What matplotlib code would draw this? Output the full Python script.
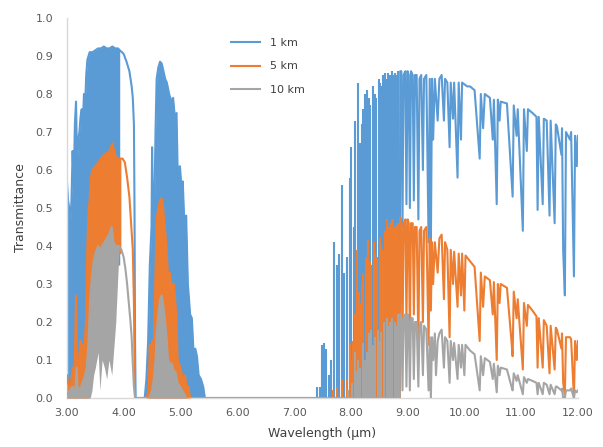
import matplotlib
matplotlib.use('Agg')
from matplotlib import pyplot as plt

BLUE = '#5B9BD5'
ORANGE = '#ED7D31'
GRAY = '#A5A5A5'

# ---- 1 km ----
blue_w1 = [3.00, 3.02, 3.04, 3.06, 3.08, 3.10, 3.12, 3.14, 3.16, 3.18, 3.20, 3.22, 3.24, 3.26, 3.28, 3.30,
           3.32, 3.34, 3.36, 3.38, 3.40, 3.45, 3.50, 3.55, 3.60, 3.65, 3.70, 3.75, 3.80, 3.85, 3.90, 3.93]
blue_hi1 = [0.57, 0.52, 0.50, 0.46, 0.52, 0.65, 0.56, 0.72, 0.78, 0.61, 0.68, 0.70, 0.74, 0.76, 0.72, 0.80,
            0.77, 0.85, 0.89, 0.90, 0.91, 0.91, 0.915, 0.92, 0.92, 0.925, 0.92, 0.92, 0.925, 0.92, 0.92, 0.915]
blue_lo1 = [0.0, 0.0, 0.0, 0.0, 0.0, 0.0, 0.0, 0.0, 0.0, 0.0, 0.0, 0.0, 0.0, 0.0, 0.0, 0.0,
            0.0, 0.0, 0.0, 0.0, 0.25, 0.35, 0.35, 0.35, 0.35, 0.35, 0.35, 0.35, 0.35, 0.35, 0.35, 0.35]
blue_tail_w = [3.93, 3.97, 4.00, 4.05, 4.10, 4.14, 4.16, 4.18, 4.19, 4.20, 4.21]
blue_tail_v = [0.915, 0.91, 0.905, 0.885, 0.86, 0.82, 0.79, 0.72, 0.50, 0.15, 0.0]
blue_w2 = [4.37, 4.40, 4.43, 4.46, 4.49, 4.50, 4.52, 4.54, 4.56, 4.58, 4.61, 4.64, 4.67, 4.70, 4.73, 4.76,
           4.80, 4.84, 4.87, 4.90, 4.93, 4.95, 4.99, 5.02, 5.04, 5.07, 5.10, 5.13, 5.17, 5.20, 5.23, 5.26,
           5.29, 5.32, 5.36, 5.40, 5.43]
blue_hi2 = [0.0, 0.05, 0.15, 0.35, 0.45, 0.66, 0.45, 0.50, 0.70, 0.84, 0.87, 0.885, 0.88, 0.86, 0.84, 0.83,
            0.80, 0.78, 0.79, 0.74, 0.75, 0.60, 0.61, 0.55, 0.57, 0.45, 0.48, 0.30, 0.22, 0.21, 0.12, 0.13,
            0.11, 0.06, 0.05, 0.03, 0.0]
# separate absorption-line spikes, 7.4 - 8.9 um
blue_spike_w = [7.40, 7.455, 7.50, 7.53, 7.57, 7.61, 7.65, 7.706, 7.75, 7.79, 7.84, 7.88, 7.93, 7.98, 8.01,
                8.05, 8.08, 8.12, 8.14, 8.16, 8.19, 8.21, 8.25, 8.27, 8.29, 8.32, 8.34, 8.39, 8.42, 8.45,
                8.49, 8.52, 8.54, 8.57, 8.60, 8.63, 8.66, 8.69, 8.72, 8.75, 8.77, 8.80, 8.83]
blue_spike_top = [0.03, 0.03, 0.14, 0.145, 0.13, 0.06, 0.10, 0.41, 0.35, 0.38, 0.56, 0.33, 0.37, 0.58, 0.66,
                  0.45, 0.73, 0.83, 0.62, 0.67, 0.72, 0.76, 0.80, 0.75, 0.81, 0.79, 0.77, 0.82, 0.80, 0.79,
                  0.84, 0.83, 0.82, 0.85, 0.855, 0.84, 0.855, 0.85, 0.86, 0.85, 0.855, 0.85, 0.86]
blue_lwir = [
    (8.86, 0.0), (8.87, 0.86), (8.89, 0.86), (8.91, 0.45), (8.93, 0.85), (8.96, 0.86), (8.98, 0.51),
    (9.00, 0.86), (9.02, 0.85), (9.04, 0.50), (9.06, 0.86), (9.09, 0.85), (9.11, 0.52), (9.13, 0.85),
    (9.16, 0.85), (9.19, 0.47), (9.21, 0.84), (9.24, 0.85), (9.27, 0.60), (9.29, 0.84), (9.33, 0.85),
    (9.37, 0.41), (9.39, 0.84), (9.41, 0.39), (9.43, 0.84), (9.45, 0.68), (9.48, 0.84), (9.53, 0.73),
    (9.56, 0.84), (9.60, 0.85), (9.64, 0.73), (9.66, 0.84), (9.70, 0.83), (9.74, 0.66), (9.76, 0.83),
    (9.80, 0.735), (9.82, 0.83), (9.88, 0.58), (9.90, 0.83), (9.94, 0.68), (9.96, 0.83), (10.05, 0.82),
    (10.10, 0.82), (10.18, 0.81), (10.27, 0.63), (10.29, 0.80), (10.33, 0.71), (10.36, 0.80),
    (10.45, 0.79), (10.50, 0.68), (10.52, 0.785), (10.57, 0.51), (10.59, 0.785), (10.62, 0.73),
    (10.64, 0.78), (10.75, 0.775), (10.83, 0.58), (10.85, 0.53), (10.87, 0.77), (10.92, 0.69),
    (10.94, 0.76), (11.03, 0.44), (11.05, 0.76), (11.10, 0.65), (11.12, 0.76), (11.20, 0.75),
    (11.27, 0.74), (11.29, 0.495), (11.31, 0.74), (11.38, 0.51), (11.40, 0.735), (11.45, 0.73),
    (11.50, 0.48), (11.52, 0.73), (11.59, 0.46), (11.61, 0.72), (11.63, 0.715), (11.71, 0.64),
    (11.72, 0.71), (11.74, 0.39), (11.77, 0.27), (11.79, 0.70), (11.86, 0.68), (11.88, 0.70),
    (11.93, 0.32), (11.95, 0.69), (11.98, 0.61), (12.00, 0.69),
]

# ---- 5 km ----
orange_w1 = [3.00, 3.02, 3.04, 3.06, 3.08, 3.10, 3.12, 3.14, 3.16, 3.18, 3.20, 3.22, 3.24, 3.26, 3.28, 3.30,
             3.32, 3.34, 3.36, 3.38, 3.40, 3.42, 3.45, 3.50, 3.55, 3.60, 3.65, 3.70, 3.75, 3.80, 3.85, 3.90,
             3.95]
orange_hi1 = [0.06, 0.04, 0.03, 0.02, 0.05, 0.08, 0.04, 0.10, 0.27, 0.08, 0.05, 0.12, 0.15, 0.10, 0.14, 0.12,
              0.16, 0.22, 0.40, 0.49, 0.52, 0.58, 0.60, 0.61, 0.62, 0.63, 0.64, 0.645, 0.65, 0.67, 0.64, 0.63,
              0.63]
orange_lo1 = [0.0, 0.0, 0.0, 0.0, 0.0, 0.0, 0.0, 0.0, 0.0, 0.0, 0.0, 0.0, 0.0, 0.0, 0.0, 0.0,
              0.0, 0.0, 0.0, 0.0, 0.10, 0.15, 0.20, 0.20, 0.20, 0.20, 0.20, 0.20, 0.20, 0.20, 0.25, 0.38,
              0.38]
orange_tail_w = [3.95, 3.98, 4.02, 4.06, 4.10, 4.13, 4.16, 4.18, 4.19, 4.20]
orange_tail_v = [0.63, 0.63, 0.62, 0.58, 0.53, 0.46, 0.39, 0.25, 0.10, 0.0]
orange_w2 = [4.40, 4.44, 4.46, 4.48, 4.50, 4.52, 4.55, 4.58, 4.61, 4.64, 4.67, 4.69, 4.71, 4.73, 4.76, 4.78,
             4.81, 4.84, 4.86, 4.88, 4.90, 4.93, 4.95, 4.97, 5.00, 5.04, 5.08, 5.11, 5.14, 5.17]
orange_hi2 = [0.0, 0.02, 0.14, 0.05, 0.15, 0.06, 0.26, 0.47, 0.50, 0.52, 0.525, 0.51, 0.47, 0.44, 0.38, 0.32,
              0.33, 0.30, 0.25, 0.30, 0.27, 0.21, 0.10, 0.09, 0.08, 0.05, 0.06, 0.02, 0.03, 0.0]
orange_spike_w = [7.69, 7.75, 7.84, 7.93, 7.98, 8.01, 8.04, 8.08, 8.11, 8.14, 8.16, 8.19, 8.21, 8.26, 8.28,
                  8.30, 8.33, 8.36, 8.40, 8.43, 8.46, 8.51, 8.54, 8.57, 8.60, 8.63, 8.66, 8.69, 8.72, 8.75,
                  8.77, 8.80, 8.83]
orange_spike_top = [0.02, 0.03, 0.05, 0.05, 0.145, 0.10, 0.15, 0.22, 0.39, 0.28, 0.25, 0.30, 0.33, 0.37, 0.34,
                    0.415, 0.36, 0.35, 0.41, 0.38, 0.37, 0.42, 0.40, 0.39, 0.44, 0.47, 0.45, 0.46, 0.47, 0.47,
                    0.45, 0.455, 0.46]
orange_lwir = [
    (8.86, 0.0), (8.87, 0.475), (8.89, 0.46), (8.91, 0.14), (8.93, 0.46), (8.96, 0.47), (8.98, 0.20),
    (9.00, 0.47), (9.02, 0.46), (9.04, 0.16), (9.06, 0.46), (9.09, 0.46), (9.11, 0.22), (9.13, 0.45),
    (9.16, 0.45), (9.19, 0.14), (9.21, 0.44), (9.24, 0.45), (9.27, 0.20), (9.29, 0.44), (9.33, 0.45),
    (9.37, 0.14), (9.39, 0.42), (9.41, 0.23), (9.43, 0.41), (9.45, 0.30), (9.48, 0.41), (9.53, 0.33),
    (9.56, 0.42), (9.60, 0.43), (9.64, 0.26), (9.66, 0.41), (9.70, 0.39), (9.74, 0.16), (9.76, 0.39),
    (9.80, 0.30), (9.82, 0.385), (9.88, 0.24), (9.90, 0.38), (9.94, 0.27), (9.96, 0.38), (10.00, 0.23),
    (10.02, 0.375), (10.10, 0.36), (10.18, 0.345), (10.27, 0.15), (10.29, 0.33), (10.33, 0.24),
    (10.36, 0.32), (10.45, 0.31), (10.50, 0.22), (10.52, 0.305), (10.57, 0.10), (10.59, 0.30),
    (10.62, 0.25), (10.64, 0.30), (10.75, 0.29), (10.83, 0.15), (10.85, 0.11), (10.87, 0.28),
    (10.92, 0.21), (10.94, 0.26), (11.03, 0.075), (11.05, 0.25), (11.10, 0.19), (11.12, 0.245),
    (11.20, 0.23), (11.27, 0.215), (11.29, 0.08), (11.31, 0.21), (11.38, 0.08), (11.40, 0.205),
    (11.45, 0.19), (11.50, 0.065), (11.52, 0.19), (11.59, 0.075), (11.61, 0.185), (11.63, 0.18),
    (11.71, 0.13), (11.72, 0.17), (11.74, 0.04), (11.77, 0.01), (11.79, 0.16), (11.86, 0.16),
    (11.88, 0.155), (11.93, 0.0), (11.95, 0.15), (11.98, 0.10), (12.00, 0.15),
]

# ---- 10 km ----
gray_w1 = [3.00, 3.05, 3.10, 3.15, 3.17, 3.19, 3.25, 3.30, 3.35, 3.38, 3.41, 3.44, 3.47, 3.50, 3.55, 3.58,
           3.62, 3.66, 3.70, 3.74, 3.79, 3.82, 3.86, 3.92]
gray_hi1 = [0.01, 0.02, 0.03, 0.02, 0.08, 0.02, 0.03, 0.05, 0.08, 0.15, 0.26, 0.32, 0.36, 0.38, 0.40, 0.39,
            0.40, 0.41, 0.42, 0.43, 0.45, 0.41, 0.40, 0.40]
gray_lo1 = [0.0, 0.0, 0.0, 0.0, 0.0, 0.0, 0.0, 0.0, 0.0, 0.0, 0.0, 0.02, 0.06, 0.08, 0.12, 0.02,
            0.10, 0.08, 0.05, 0.10, 0.06, 0.12, 0.20, 0.40]
gray_tail_w = [3.92, 3.96, 4.00, 4.03, 4.06, 4.09, 4.12, 4.14, 4.16, 4.18, 4.20]
gray_tail_v = [0.40, 0.39, 0.37, 0.34, 0.30, 0.25, 0.20, 0.16, 0.09, 0.03, 0.0]
gray_w2 = [4.45, 4.50, 4.53, 4.56, 4.58, 4.61, 4.64, 4.67, 4.70, 4.73, 4.76, 4.78, 4.82, 4.85, 4.88, 4.91,
           4.95, 4.99, 5.03, 5.07, 5.10]
gray_hi2 = [0.0, 0.02, 0.05, 0.10, 0.17, 0.22, 0.26, 0.27, 0.24, 0.20, 0.15, 0.10, 0.09, 0.09, 0.07, 0.07,
            0.04, 0.03, 0.02, 0.01, 0.0]
gray_spike_w = [7.95, 8.02, 8.07, 8.10, 8.13, 8.17, 8.22, 8.25, 8.28, 8.32, 8.36, 8.39, 8.42, 8.48, 8.51,
                8.54, 8.58, 8.63, 8.66, 8.69, 8.73, 8.78, 8.80, 8.83]
gray_spike_top = [0.02, 0.04, 0.12, 0.07, 0.10, 0.08, 0.145, 0.10, 0.12, 0.17, 0.18, 0.14, 0.16, 0.18, 0.15,
                  0.175, 0.20, 0.21, 0.19, 0.20, 0.21, 0.20, 0.19, 0.22]
gray_lwir = [
    (8.86, 0.0), (8.87, 0.22), (8.89, 0.21), (8.91, 0.02), (8.93, 0.21), (8.96, 0.22), (8.98, 0.03),
    (9.00, 0.22), (9.02, 0.20), (9.04, 0.02), (9.06, 0.21), (9.09, 0.21), (9.11, 0.05), (9.13, 0.20),
    (9.16, 0.20), (9.19, 0.03), (9.21, 0.19), (9.24, 0.20), (9.27, 0.06), (9.29, 0.19), (9.33, 0.18),
    (9.37, 0.02), (9.39, 0.16), (9.41, 0.0), (9.43, 0.16), (9.45, 0.10), (9.48, 0.17), (9.50, 0.06),
    (9.53, 0.15), (9.56, 0.17), (9.60, 0.18), (9.64, 0.08), (9.66, 0.16), (9.70, 0.15), (9.74, 0.04),
    (9.76, 0.15), (9.80, 0.10), (9.82, 0.145), (9.88, 0.05), (9.90, 0.14), (9.94, 0.08), (9.96, 0.14),
    (10.00, 0.06), (10.02, 0.14), (10.10, 0.125), (10.18, 0.115), (10.27, 0.02), (10.29, 0.11),
    (10.33, 0.06), (10.36, 0.105), (10.45, 0.095), (10.50, 0.05), (10.52, 0.09), (10.57, 0.015),
    (10.59, 0.085), (10.62, 0.06), (10.64, 0.08), (10.75, 0.075), (10.83, 0.03), (10.85, 0.02),
    (10.87, 0.065), (10.92, 0.045), (10.94, 0.06), (11.03, 0.01), (11.05, 0.055), (11.10, 0.04),
    (11.12, 0.05), (11.20, 0.045), (11.27, 0.04), (11.29, 0.01), (11.31, 0.04), (11.38, 0.01),
    (11.40, 0.04), (11.45, 0.035), (11.50, 0.01), (11.52, 0.035), (11.59, 0.01), (11.61, 0.03),
    (11.63, 0.03), (11.71, 0.02), (11.72, 0.025), (11.74, 0.0), (11.77, 0.0), (11.79, 0.02),
    (11.86, 0.02), (11.88, 0.025), (11.93, 0.0), (11.95, 0.02), (11.98, 0.015), (12.00, 0.02),
]

series = [
    ('1 km', BLUE, blue_w1, blue_hi1, blue_lo1, blue_tail_w, blue_tail_v, blue_w2, blue_hi2,
     blue_spike_w, blue_spike_top, blue_lwir),
    ('5 km', ORANGE, orange_w1, orange_hi1, orange_lo1, orange_tail_w, orange_tail_v, orange_w2, orange_hi2,
     orange_spike_w, orange_spike_top, orange_lwir),
    ('10 km', GRAY, gray_w1, gray_hi1, gray_lo1, gray_tail_w, gray_tail_v, gray_w2, gray_hi2,
     gray_spike_w, gray_spike_top, gray_lwir),
]

fig = plt.figure(figsize=(6.03, 4.47), dpi=100)
ax = fig.add_axes([0.111, 0.1096, 0.8474, 0.8501])

for i, (label, color, w1, hi1, lo1, tw, tv, w2, hi2, sw, stop, lwir) in enumerate(series):
    z = 2 + i
    # dense absorption bands drawn as filled envelopes
    ax.fill_between(w1, lo1, hi1, color=color, lw=0, zorder=z)
    ax.fill_between(w2, 0, hi2, color=color, lw=0, zorder=z)
    # isolated lines in the 8 um window
    ax.vlines(sw, 0, stop, color=color, lw=1.5, zorder=z)
    lw_w = [p[0] for p in lwir]
    lw_v = [p[1] for p in lwir]
    ax.plot(w1 + tw + w2 + [7.38] + lw_w, hi1 + tv + hi2 + [0.0] + lw_v, color=color, lw=1.5,
            label=label, zorder=z)

ax.set_xlim(3, 12)
ax.set_ylim(0, 1)
ax.set_xticks([3, 4, 5, 6, 7, 8, 9, 10, 11, 12])
ax.set_xticklabels(['%.2f' % t for t in range(3, 13)])
ax.set_yticks([i / 10 for i in range(11)])
ax.set_yticklabels(['%.1f' % (i / 10) for i in range(11)])
ax.tick_params(length=0, labelsize=8, colors='#595959')
ax.tick_params(axis='y', pad=10)
ax.tick_params(axis='x', pad=7)
for s in ['top', 'right']:
    ax.spines[s].set_visible(False)
for s in ['left', 'bottom']:
    ax.spines[s].set_color('#D9D9D9')
    ax.spines[s].set_linewidth(1.0)
ax.set_xlabel('Wavelength (µm)', fontsize=9, color='#404040', labelpad=7)
ax.set_ylabel('Transmittance', fontsize=9, color='#404040', labelpad=6)

leg = ax.legend(loc='upper left', bbox_to_anchor=(0.302, 0.975), frameon=False, fontsize=8,
                handlelength=2.6, labelspacing=1.25, handletextpad=0.9)
for t in leg.get_texts():
    t.set_color('#404040')

fig.savefig('out.png', dpi=100)
